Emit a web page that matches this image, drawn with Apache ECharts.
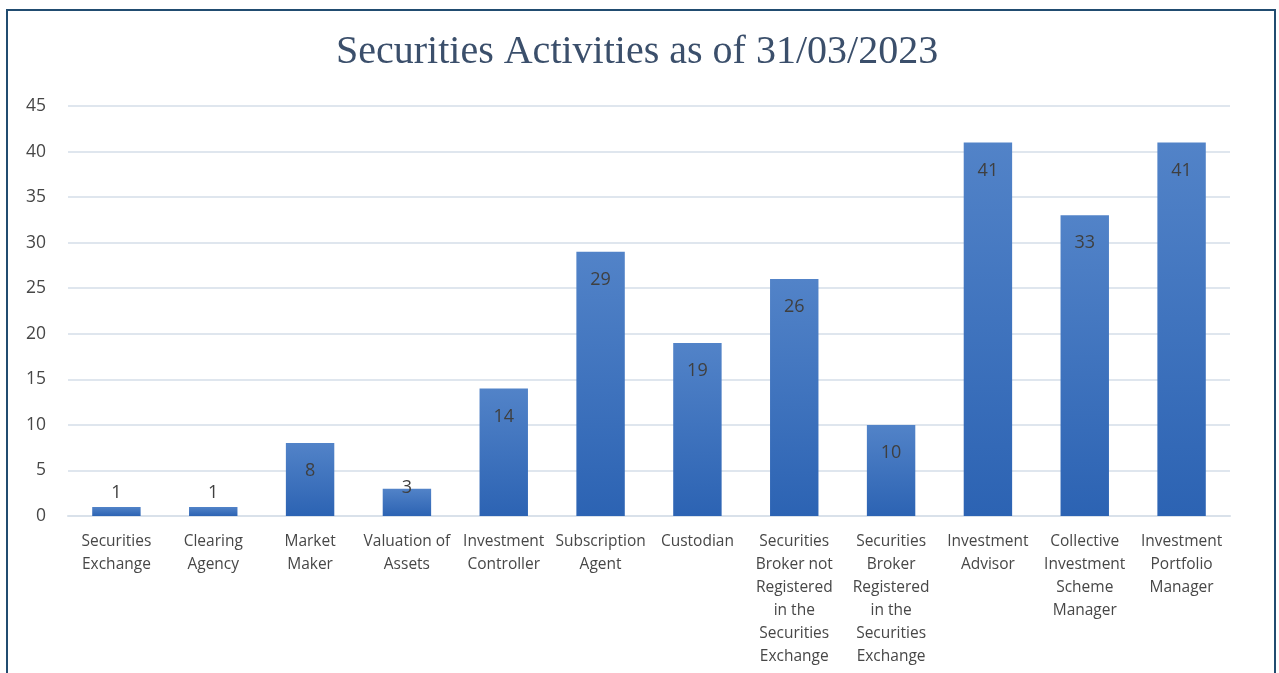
<!DOCTYPE html>
<html>
<head>
<meta charset="utf-8">
<title>Securities Activities as of 31/03/2023</title>
<script src="https://cdn.jsdelivr.net/npm/echarts@6/dist/echarts.min.js"></script>
<style>
  html, body { margin: 0; padding: 0; background: #ffffff; }
  #chart { width: 1279px; height: 673px; }
</style>
</head>
<body>
<div id="chart"></div>
<script>
// Activity types (line breaks follow the printed axis labels)
const categories = [
  'Securities\nExchange',
  'Clearing\nAgency',
  'Market\nMaker',
  'Valuation of\nAssets',
  'Investment\nController',
  'Subscription\nAgent',
  'Custodian',
  'Securities\nBroker not\nRegistered\nin the\nSecurities\nExchange',
  'Securities\nBroker\nRegistered\nin the\nSecurities\nExchange',
  'Investment\nAdvisor',
  'Collective\nInvestment\nScheme\nManager',
  'Investment\nPortfolio\nManager'
];

// Number of licensed entities per activity
const counts = [1, 1, 8, 3, 14, 29, 19, 26, 10, 41, 33, 41];

// Value axis ticks
const yTicks = [0, 5, 10, 15, 20, 25, 30, 35, 40, 45];

const titleText = 'Securities Activities as of 31/03/2023';

const chart = echarts.init(document.getElementById('chart'), null, { renderer: 'canvas' });

const labelColor = '#3f3f3f';
const sansFont = '"Open Sans", "Noto Sans", sans-serif';

// Short bars carry their label above or straddling the bar top
const seriesData = counts.map(function (v) {
  const item = { value: v };
  if (v <= 1) {
    item.label = { position: 'top', distance: 5 };
  } else if (v <= 3) {
    item.label = { position: 'insideTop', distance: -10 };
  }
  return item;
});

chart.setOption({
  backgroundColor: '#ffffff',
  animation: false,
  graphic: [{
    type: 'rect',
    shape: { x: 7, y: 10, width: 1268, height: 700 },
    style: { fill: 'none', stroke: '#214c70', lineWidth: 2 },
    silent: true,
    z: 100
  }],
  title: {
    text: titleText,
    left: 331,
    top: 27,
    textStyle: {
      fontFamily: '"Liberation Serif", "DejaVu Serif", serif',
      fontWeight: 'normal',
      fontSize: 40,
      color: '#3b4f6b'
    }
  },
  grid: { left: 68, right: 49, top: 106, bottom: 157 },
  xAxis: {
    type: 'category',
    data: categories,
    axisLine: { show: true, lineStyle: { color: '#d9e1ea', width: 2 } },
    axisTick: { show: false },
    axisLabel: {
      interval: 0,
      margin: 14,
      fontFamily: sansFont,
      fontSize: 15.5,
      lineHeight: 23,
      color: '#474747'
    }
  },
  yAxis: {
    type: 'value',
    min: yTicks[0],
    max: yTicks[yTicks.length - 1],
    interval: yTicks[1] - yTicks[0],
    axisLine: { show: false },
    axisTick: { show: false },
    splitLine: { lineStyle: { color: '#dfe6ee', width: 2 } },
    axisLabel: {
      margin: 22,
      fontFamily: sansFont,
      fontSize: 17.5,
      color: '#474747'
    }
  },
  series: [{
    type: 'bar',
    data: seriesData,
    barWidth: '50%',
    itemStyle: {
      color: new echarts.graphic.LinearGradient(0, 0, 0, 1, [
        { offset: 0, color: '#5283c8' },
        { offset: 1, color: '#2c63b3' }
      ])
    },
    label: {
      show: true,
      position: 'insideTop',
      distance: 19,
      fontFamily: sansFont,
      fontSize: 18,
      color: labelColor
    }
  }]
});
</script>
</body>
</html>
